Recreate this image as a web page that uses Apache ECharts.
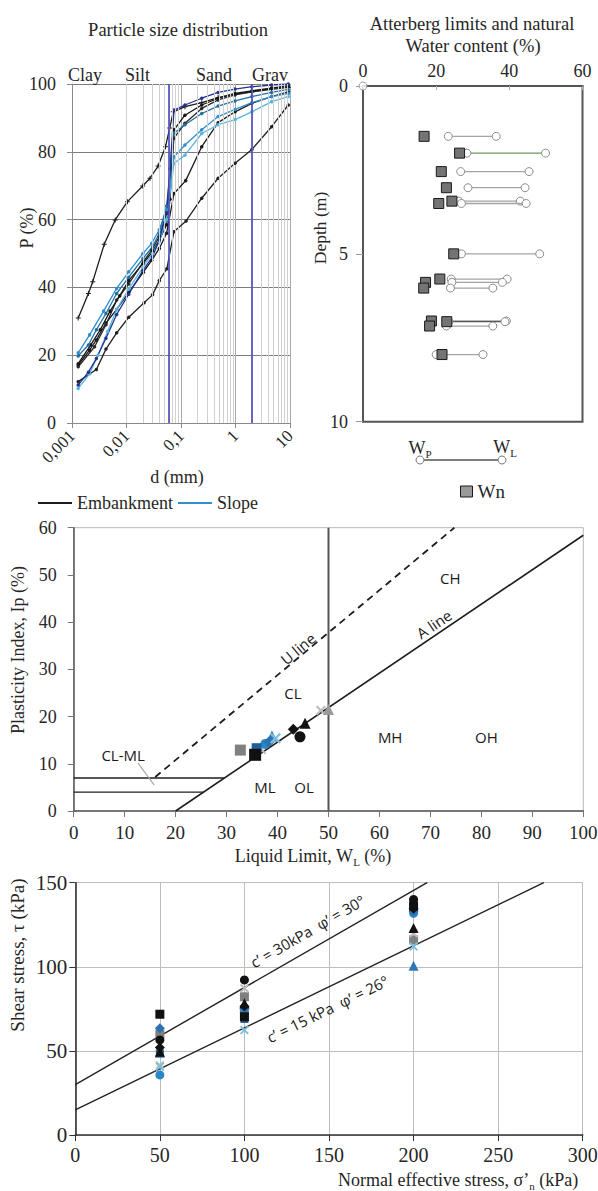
<!DOCTYPE html>
<html>
<head>
<meta charset="utf-8">
<script src="https://cdn.jsdelivr.net/npm/echarts@6.0.0/dist/echarts.min.js"></script>
<style>html,body{margin:0;padding:0;background:#fff;}#chart{width:598px;height:1191px;}</style>
</head>
<body>
<div id="chart"></div>
<script>
// ================= DATA =================
// --- Particle size distribution (d in mm, P in %) ---
const psdTickLabels = ['0,001', '0,01', '0,1', '1', '10'];
const psdBoundaries = [0.002, 0.063, 2];
const psdDecades = [0.001, 0.01, 0.1, 1];
const psdMinorSteps = [2, 3, 4, 5, 6, 7, 8, 9];
const psdZoneNames = ['Clay', 'Silt', 'Sand', 'Grav'];

const embA = [[0.0013,31],[0.002,38.2],[0.0024,41.7],[0.0039,52.7],[0.0062,59.9],[0.0104,65.3],[0.0198,69.9],[0.027,72.2],[0.038,75.8],[0.052,81.5],[0.062,87],[0.072,91.8],[0.118,93.3],[0.24,94.5],[0.48,96],[0.98,97],[2,97.7],[4.6,98.4],[9.3,99]];
const embD = [[0.0013,17.1],[0.0021,21.5],[0.0028,24.5],[0.0042,29.5],[0.0066,33.5],[0.011,38.5],[0.0204,44.5],[0.029,48],[0.04,51.5],[0.0545,56],[0.0744,67.7],[0.122,71.5],[0.24,81.5],[0.48,88.6],[0.98,91.8],[2,94.3],[4.6,96.3],[9.3,97.7]];
const embE = [[0.0013,16.6],[0.0026,22.5],[0.0042,29],[0.0066,36.3],[0.011,41],[0.0204,47.6],[0.029,51],[0.04,55],[0.0545,61.8],[0.0744,84],[0.118,88.4],[0.24,92.8],[0.48,95.3],[0.98,96.8],[2,97.7],[4.6,98.7],[9.3,99.2]];
const embK = [[0.0013,17.5],[0.0022,23],[0.0033,27.5],[0.005,33],[0.0075,37.5],[0.011,42],[0.02,47],[0.03,50.5],[0.04,54],[0.0545,58.5],[0.063,66],[0.0744,86.5],[0.118,90.8],[0.24,93.8],[0.48,95.8],[0.98,97.2],[2,98],[4.6,98.8],[9.3,99.5]];
const embF = [[0.0013,12.2],[0.0028,15.8],[0.0042,21.8],[0.0066,26.6],[0.011,31.2],[0.021,35.5],[0.03,37.8],[0.04,42],[0.055,45.5],[0.074,56.4],[0.124,59.6],[0.24,66.3],[0.48,72.2],[0.98,76.6],[2,80.7],[4.6,87.4],[9.3,93.8]];
const slopeB = [[0.0013,20.7],[0.0021,26],[0.0038,33],[0.0066,39.7],[0.011,44.6],[0.02,50],[0.029,53],[0.04,57],[0.0545,63],[0.0744,78.5],[0.118,82],[0.24,86.5],[0.48,90.4],[0.98,92.5],[2,94.5],[4.6,96.3],[9.3,97.2]];
const slopeC = [[0.0013,19.8],[0.002,23],[0.0028,27.5],[0.0042,32.3],[0.0066,38.2],[0.011,43],[0.02,48.5],[0.03,52],[0.04,55.9],[0.0545,64],[0.0744,85.5],[0.118,88],[0.24,91.3],[0.48,93.5],[0.98,95],[2,96.3],[4.6,97.5],[9.3,98.4]];
const slopeH = [[0.0013,10.2],[0.0021,14.5],[0.003,20],[0.0045,27],[0.0066,33.5],[0.011,39.5],[0.02,46],[0.03,50],[0.04,53.5],[0.0545,60],[0.0744,76.6],[0.118,79],[0.24,85.4],[0.48,88],[0.98,89.5],[2,91.8],[4.6,94.8],[9.3,96.3]];
const slopeG = [[0.0013,11.2],[0.002,15],[0.0028,19],[0.0042,25],[0.0066,32],[0.011,38],[0.02,45],[0.03,49],[0.04,54],[0.0545,62],[0.0628,75],[0.0744,92.3],[0.118,93.8],[0.24,95.8],[0.48,97.5],[0.98,98.5],[2,99.2],[4.6,99.7],[9.3,100]];

// --- Atterberg limits vs depth ---
const attDepth = [1.5, 2.0, 2.55, 3.03, 3.43, 3.5, 5.0, 5.75, 5.85, 6.02, 7.0, 7.02, 7.15, 8.0];
const attWn    = [16.7, 26.4, 21.4, 22.8, 24.3, 20.7, 24.8, 21.0, 17.1, 16.6, 18.7, 22.9, 18.2, 21.6];
const attWp    = [23.3, 28.4, 26.7, 28.7, 26.2, 26.9, 26.9, 24.1, 24.3, 23.9, 22.9, 23.5, 22.8, 20.0];
const attWl    = [36.4, 49.9, 45.4, 44.3, 43.0, 44.6, 48.3, 39.4, 38.1, 35.5, 39.2, 38.8, 35.5, 32.8];
const attOrigin = [[0, 0]];

// --- Plasticity chart reference lines (WL, Ip) ---
const aLinePts = [[20, 0], [100, 58.4]];
const uLinePts = [[16, 7.2], [74.7, 60]];
const wl50Pts = [[50, 0], [50, 60]];
const ip7Pts = [[0, 7], [29.6, 7]];
const ip4Pts = [[0, 4], [25.5, 4]];
const clmlLeaderPts = [[12.6, 10.2], [15.8, 5.5]];
const zoneLabelNames = ['CH', 'A line', 'U line', 'CL', 'CL-ML', 'ML', 'OL', 'MH', 'OH'];
const zoneLabelPos = [[73.9, 49.4], [70.7, 39.6], [44.0, 34.4], [43.0, 25.0], [9.7, 11.9], [37.5, 5.1], [45.2, 5.1], [62.1, 15.7], [81.0, 15.7]];

// --- Plasticity points (WL, Ip) per specimen ---
const plBlackSquare = [[35.6, 11.9]];
const plBlackCircle = [[44.4, 15.7]];
const plBlackTriangle = [[45.4, 18.6]];
const plBlackDiamond = [[43.1, 17.3]];
const plGraySquare = [[32.7, 12.9]];
const plGrayCross = [[36.8, 13.0], [48.5, 21.3]];
const plGrayTriangle = [[50.0, 21.5]];
const plBlueDiamond = [[38.3, 14.6]];
const plBlueCircle = [[37.6, 14.2]];
const plBlueTriangle = [[38.9, 15.9]];
const plCyanCross = [[39.6, 15.4]];
const plBlueSquare = [[35.9, 13.3]];

// --- Direct shear (sigma'n, tau) per specimen ---
const shBlackSquare = [[50, 71.8], [100, 70.3], [200, 136]];
const shBlackCircle = [[50, 56.5], [100, 92.2], [200, 140]];
const shBlackTriangle = [[50, 49.5], [100, 78.4], [200, 123]];
const shBlackDiamond = [[50, 52], [100, 76.5], [200, 134.5]];
const shGraySquare = [[50, 60], [100, 82.2], [200, 116]];
const shGrayCross = [[50, 41.5], [100, 87.2], [200, 120]];
const shBlueDiamond = [[50, 63.4], [100, 75.3], [200, 133]];
const shBlueCircle = [[50, 35.7], [100, 73], [200, 131.8]];
const shBlueTriangle = [[50, 49], [100, 77], [200, 100.6]];
const shCyanCross = [[50, 40.6], [100, 62.4], [200, 112]];
const shBlueSquare = [[50, 48.5], [100, 69], [200, 138]];
const envUpper = [[0, 30], [208, 150]];
const envLower = [[0, 15], [277, 150]];
const envLabelNames = ['c\u2019 = 30kPa  \u03c6\u2019 = 30\u00b0', 'c\u2019 = 15 kPa  \u03c6\u2019 = 26\u00b0'];
const envLabelPos = [[137.3, 121.2], [149.1, 75.0]];

// ================= STYLE / LAYOUT =================
const SERIF = "'Liberation Serif','DejaVu Serif',serif";
const SANS = "'Open Sans','Liberation Sans',sans-serif";
const PLUS = 'path://M4,0H6V4H10V6H6V10H4V6H0V4H4Z';
const XMARK = 'path://M1.5,0L5,3.5L8.5,0L10,1.5L6.5,5L10,8.5L8.5,10L5,6.5L1.5,10L0,8.5L3.5,5L0,1.5Z';
const TXT = '#262626';
const LABEL_TXT = '#1a1a1a';

const chart = echarts.init(document.getElementById('chart'), null, {renderer: 'svg', width: 598, height: 1191});

const psdCurves = [
  {name: 'Embankment', data: embA, color: '#1c1c1c', symbol: PLUS, size: 5},
  {name: 'Embankment', data: embD, color: '#1c1c1c'},
  {name: 'Embankment', data: embE, color: '#2a2a2a'},
  {name: 'Embankment', data: embK, color: '#151515'},
  {name: 'Embankment', data: embF, color: '#222222'},
  {name: 'Slope', data: slopeB, color: '#2f8fce'},
  {name: 'Slope', data: slopeC, color: '#1f6fa3'},
  {name: 'Slope', data: slopeH, color: '#58b5e2'},
  {name: 'Slope', data: slopeG, color: '#24338f'}
];

const minorLines = [];
psdDecades.forEach(d => psdMinorSteps.forEach(m => minorLines.push({xAxis: +(d * m).toPrecision(3)})));

const markerStyles = {
  blackSquare:   {symbol: 'rect', color: '#111111', plSize: 12, shSize: 9},
  blackCircle:   {symbol: 'circle', color: '#111111', plSize: 11, shSize: 9},
  blackTriangle: {symbol: 'triangle', color: '#111111', plSize: 11, shSize: 10},
  blackDiamond:  {symbol: 'diamond', color: '#111111', plSize: 11, shSize: 10},
  graySquare:    {symbol: 'rect', color: '#808080', plSize: 11, shSize: 9},
  grayCross:     {symbol: XMARK, color: '#bdbdbd', plSize: 10, shSize: 9},
  grayTriangle:  {symbol: 'triangle', color: '#9a9a9a', plSize: 11, shSize: 10},
  blueDiamond:   {symbol: 'diamond', color: '#2c72b0', plSize: 11, shSize: 10},
  blueCircle:    {symbol: 'circle', color: '#2a86c6', plSize: 10, shSize: 9},
  blueTriangle:  {symbol: 'triangle', color: '#2f78b8', plSize: 11, shSize: 10},
  cyanCross:     {symbol: XMARK, color: '#7cc0de', plSize: 11, shSize: 9},
  blueSquare:    {symbol: 'rect', color: '#1f5f99', plSize: 10, shSize: 8}
};
const specimens = [
  ['graySquare', plGraySquare, shGraySquare],
  ['grayCross', plGrayCross, shGrayCross],
  ['grayTriangle', plGrayTriangle, []],
  ['blueCircle', plBlueCircle, shBlueCircle],
  ['blueSquare', plBlueSquare, shBlueSquare],
  ['blueTriangle', plBlueTriangle, shBlueTriangle],
  ['blueDiamond', plBlueDiamond, shBlueDiamond],
  ['cyanCross', plCyanCross, shCyanCross],
  ['blackSquare', plBlackSquare, shBlackSquare],
  ['blackTriangle', plBlackTriangle, shBlackTriangle],
  ['blackDiamond', plBlackDiamond, shBlackDiamond],
  ['blackCircle', plBlackCircle, shBlackCircle]
];

const attGreenRows = [1];
const attDarkRows = [11];

function axisFont(size) { return {fontFamily: SERIF, fontSize: size, color: TXT}; }

const series = [];
// minor log gridlines + fraction boundaries
series.push({type: 'line', xAxisIndex: 0, yAxisIndex: 0, data: [], silent: true, z: 1,
  markLine: {silent: true, symbol: ['none', 'none'], label: {show: false}, animation: false,
    lineStyle: {color: '#d0d0d0', width: 1, type: 'solid'}, data: minorLines}});
series.push({type: 'line', xAxisIndex: 0, yAxisIndex: 0, data: [], silent: true, z: 2,
  markLine: {silent: true, symbol: ['none', 'none'], label: {show: false}, animation: false,
    lineStyle: {color: '#4747b3', width: 1.6, type: 'solid'}, data: psdBoundaries.map(v => ({xAxis: v}))}});
psdCurves.forEach(c => series.push({
  type: 'line', name: c.name, xAxisIndex: 0, yAxisIndex: 0, data: c.data, z: 4, silent: true,
  symbol: c.symbol || 'circle', symbolSize: c.size || 3.5,
  lineStyle: {width: 1.3, color: c.color}, itemStyle: {color: c.color}
}));

// Atterberg
series.push({
  type: 'custom', name: 'limits', xAxisIndex: 1, yAxisIndex: 1, z: 3, silent: true,
  data: attDepth.map((d, i) => [attWp[i], attWl[i], d]),
  encode: {x: [0, 1], y: 2},
  renderItem: function (params, api) {
    const a = api.coord([api.value(0), api.value(2)]);
    const b = api.coord([api.value(1), api.value(2)]);
    const idx = params.dataIndex;
    const stroke = attGreenRows.includes(idx) ? '#6a9a58' : (attDarkRows.includes(idx) ? '#555555' : '#a3a3a3');
    return {type: 'group', children: [
      {type: 'line', shape: {x1: a[0], y1: a[1], x2: b[0], y2: b[1]}, style: {stroke: stroke, lineWidth: 1.3}},
      {type: 'circle', shape: {cx: a[0], cy: a[1], r: 4}, style: {fill: '#fff', stroke: '#8c8c8c', lineWidth: 1}},
      {type: 'circle', shape: {cx: b[0], cy: b[1], r: 4}, style: {fill: '#fff', stroke: '#8c8c8c', lineWidth: 1}}
    ]};
  }
});
series.push({type: 'scatter', name: 'Wn', xAxisIndex: 1, yAxisIndex: 1, z: 5, silent: true,
  data: attDepth.map((d, i) => [attWn[i], d]), symbol: 'rect', symbolSize: 10,
  itemStyle: {color: '#747474', borderColor: '#1a1a1a', borderWidth: 1, opacity: 1}});
series.push({type: 'scatter', name: 'origin', xAxisIndex: 1, yAxisIndex: 1, z: 6, silent: true,
  data: attOrigin, symbol: 'circle', symbolSize: 8, clip: false,
  itemStyle: {color: '#fff', borderColor: '#8c8c8c', borderWidth: 1}});

// Plasticity chart lines
function refLine(data, style, xi, yi) {
  return {type: 'line', xAxisIndex: xi, yAxisIndex: yi, data: data, symbol: 'none', silent: true, z: 2,
    lineStyle: style, clip: false};
}
series.push(refLine(aLinePts, {color: '#1e1e1e', width: 1.6}, 2, 2));
series.push(refLine(uLinePts, {color: '#1e1e1e', width: 1.8, type: [7, 5]}, 2, 2));
series.push(refLine(wl50Pts, {color: '#555555', width: 2}, 2, 2));
series.push(refLine(ip7Pts, {color: '#1e1e1e', width: 1.4}, 2, 2));
series.push(refLine(ip4Pts, {color: '#1e1e1e', width: 1.4}, 2, 2));
series.push(refLine(clmlLeaderPts, {color: '#a8a8a8', width: 1.2}, 2, 2));
const zoneRot = {'A line': 34, 'U line': 40};
const labelBase = {show: true, position: 'inside', fontFamily: SANS, fontSize: 15, color: LABEL_TXT,
  textBorderWidth: 0, opacity: 1};
series.push({type: 'scatter', name: 'zones', xAxisIndex: 2, yAxisIndex: 2, silent: true, z: 6,
  symbolSize: 1, itemStyle: {color: 'rgba(255,255,255,0)'},
  data: zoneLabelNames.map((n, i) => ({name: n, value: zoneLabelPos[i],
    label: Object.assign({}, labelBase, {rotate: zoneRot[n] || 0, formatter: n})})),
  label: Object.assign({}, labelBase)});

// Shear envelopes
series.push(refLine(envUpper, {color: '#222', width: 1.4}, 3, 3));
series.push(refLine(envLower, {color: '#222', width: 1.4}, 3, 3));
const envRot = [30, 26];
series.push({type: 'scatter', name: 'envlabels', xAxisIndex: 3, yAxisIndex: 3, silent: true, z: 6,
  symbolSize: 1, itemStyle: {color: 'rgba(255,255,255,0)'},
  data: envLabelNames.map((n, i) => ({name: n, value: envLabelPos[i],
    label: Object.assign({}, labelBase, {rotate: envRot[i], formatter: n})})),
  label: Object.assign({}, labelBase)});

// Specimen markers
specimens.forEach(([key, pl, sh]) => {
  const st = markerStyles[key];
  series.push({type: 'scatter', name: 'pl-' + key, xAxisIndex: 2, yAxisIndex: 2, z: 5, silent: true,
    data: pl, symbol: st.symbol, symbolSize: st.plSize, itemStyle: {color: st.color, opacity: 1}});
  if (sh.length) series.push({type: 'scatter', name: 'sh-' + key, xAxisIndex: 3, yAxisIndex: 3, z: 5, silent: true,
    data: sh, symbol: st.symbol, symbolSize: st.shSize, itemStyle: {color: st.color, opacity: 1}});
});

function txt(x, y, text, size, extra) {
  return Object.assign({type: 'text', x: x, y: y, silent: true, z: 10,
    style: Object.assign({text: text, fontFamily: SERIF, fontSize: size, fill: TXT, align: 'center', verticalAlign: 'middle'}, (extra && extra.style) || {})},
    extra && extra.rotation ? {rotation: extra.rotation} : {});
}
const subRich = {s: {fontSize: 11, fontFamily: SERIF, fill: TXT, padding: [12, 0, 0, 0]}};
const zoneX = [85, 137.5, 214, 270];

const graphic = [
  txt(178, 30, 'Particle size distribution', 18.5),
  ...psdZoneNames.map((n, i) => txt(zoneX[i], 75, n, 18)),
  txt(27, 228, 'P (%)', 18, {rotation: Math.PI / 2}),
  txt(177, 477, 'd (mm)', 18),
  txt(472, 24, 'Atterberg limits and natural', 18.5),
  txt(473, 46, 'Water content (%)', 18.5),
  txt(320, 228, 'Depth (m)', 17.5, {rotation: Math.PI / 2}),
  {type: 'line', silent: true, shape: {x1: 420, y1: 460, x2: 502, y2: 460}, style: {stroke: '#555', lineWidth: 1.5}},
  {type: 'circle', silent: true, shape: {cx: 420, cy: 460, r: 4}, style: {fill: '#fff', stroke: '#777', lineWidth: 1}},
  {type: 'circle', silent: true, shape: {cx: 502, cy: 460, r: 4}, style: {fill: '#fff', stroke: '#777', lineWidth: 1}},
  txt(420, 448, 'W{s|P}', 18, {style: {rich: subRich}}),
  txt(505, 447, 'W{s|L}', 18, {style: {rich: subRich}}),
  txt(18, 650, 'Plasticity Index, Ip (%)', 18, {rotation: Math.PI / 2}),
  txt(313, 856, 'Liquid Limit, W{s|L} (%)', 18, {style: {rich: subRich}}),
  txt(17, 955, 'Shear stress, \u03c4 (kPa)', 19, {rotation: Math.PI / 2}),
  txt(338, 1180, 'Normal effective stress, \u03c3\u2019{s|n} (kPa)', 18, {style: {rich: subRich, align: 'left'}})
];

const option = {
  animation: false,
  backgroundColor: '#fff',
  grid: [
    {left: 72, top: 84, width: 218, height: 339, show: false, outerBoundsMode: 'none', containLabel: false},
    {left: 363, top: 86, width: 219.5, height: 335.7, show: true, borderColor: '#555', borderWidth: 2, backgroundColor: 'transparent', outerBoundsMode: 'none', containLabel: false},
    {left: 73.7, top: 527.7, width: 509.6, height: 283.3, show: true, borderColor: '#b8b8b8', borderWidth: 1, backgroundColor: 'transparent', outerBoundsMode: 'none', containLabel: false},
    {left: 75.3, top: 882.7, width: 507.4, height: 252.3, show: false, outerBoundsMode: 'none', containLabel: false}
  ],
  legend: [
    {left: 33, top: 489, icon: 'rect', itemWidth: 34, itemHeight: 2, itemGap: 5, data: ['Embankment', 'Slope'],
      textStyle: {fontFamily: SERIF, fontSize: 18, color: TXT}, selectedMode: false},
    {left: 455, top: 477, icon: 'rect', itemWidth: 12, itemHeight: 11, data: ['Wn'],
      itemStyle: {color: '#9a9a9a', borderColor: '#1a1a1a', borderWidth: 1},
      textStyle: {fontFamily: SERIF, fontSize: 19, color: TXT}, selectedMode: false}
  ],
  xAxis: [
    {type: 'log', gridIndex: 0, logBase: 10, min: 0.001, max: 10,
      axisLine: {show: true, onZero: false, lineStyle: {color: '#8a8a8a'}},
      axisTick: {show: true, length: 5, lineStyle: {color: '#8a8a8a'}},
      axisLabel: Object.assign(axisFont(17), {rotate: 45, margin: 10,
        formatter: v => psdTickLabels[Math.round(Math.log10(v)) + 3] || ''}),
      splitLine: {show: true, lineStyle: {color: '#a8a8a8', width: 1}}},
    {type: 'value', gridIndex: 1, position: 'top', min: 0, max: 60, interval: 20,
      axisLine: {show: true, onZero: false, lineStyle: {color: '#555', width: 2}},
      axisTick: {show: true, inside: true, length: 4, lineStyle: {color: '#aaa'}},
      axisLabel: Object.assign(axisFont(18), {margin: 6}),
      splitLine: {show: false}},
    {type: 'value', gridIndex: 2, min: 0, max: 100, interval: 10,
      axisLine: {show: true, onZero: false, lineStyle: {color: '#555', width: 1.5}},
      axisTick: {show: true, length: 6, lineStyle: {color: '#777'}},
      axisLabel: Object.assign(axisFont(19), {margin: 12}),
      splitLine: {show: false}},
    {type: 'value', gridIndex: 3, min: 0, max: 300, interval: 50,
      axisLine: {show: true, onZero: false, lineStyle: {color: '#333', width: 1.6}},
      axisTick: {show: true, length: 6, lineStyle: {color: '#333'}},
      axisLabel: Object.assign(axisFont(20), {margin: 10}),
      splitLine: {show: true, lineStyle: {color: '#bdbdbd', width: 1}}}
  ],
  yAxis: [
    {type: 'value', gridIndex: 0, min: 0, max: 100, interval: 20,
      axisLine: {show: true, onZero: false, lineStyle: {color: '#8a8a8a'}},
      axisTick: {show: true, length: 5, lineStyle: {color: '#8a8a8a'}},
      axisLabel: Object.assign(axisFont(18), {margin: 16}),
      splitLine: {show: true, lineStyle: {color: '#7c7c7c', width: 1}}},
    {type: 'value', gridIndex: 1, inverse: true, min: 0, max: 10, interval: 5,
      axisLine: {show: true, onZero: false, lineStyle: {color: '#555', width: 2}},
      axisTick: {show: true, length: 7, lineStyle: {color: '#9a9a9a'}},
      axisLabel: Object.assign(axisFont(18), {margin: 15}),
      splitLine: {show: false}},
    {type: 'value', gridIndex: 2, min: 0, max: 60, interval: 10,
      axisLine: {show: true, onZero: false, lineStyle: {color: '#555', width: 1.5}},
      axisTick: {show: true, length: 6, lineStyle: {color: '#777'}},
      axisLabel: Object.assign(axisFont(18), {margin: 17}),
      splitLine: {show: false}},
    {type: 'value', gridIndex: 3, min: 0, max: 150, interval: 50,
      axisLine: {show: true, onZero: false, lineStyle: {color: '#333', width: 1.6}},
      axisTick: {show: true, length: 6, lineStyle: {color: '#333'}},
      axisLabel: Object.assign(axisFont(21), {margin: 8}),
      splitLine: {show: true, lineStyle: {color: '#bdbdbd', width: 1}}}
  ],
  graphic: graphic,
  series: series
};
chart.setOption(option);
</script>
</body>
</html>
